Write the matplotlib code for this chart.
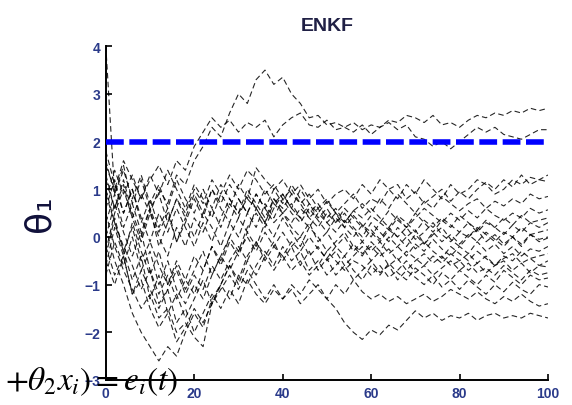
import numpy as np
import matplotlib
matplotlib.use("Agg")
import matplotlib.pyplot as plt

plt.rcParams['mathtext.fontset'] = 'stix'

# time axis (every 2 steps)
time = list(range(0, 101, 2))

# ensemble members (theta_1 estimates)
member_01 = [1.2, 0.6, 1.1, 0.4, 0.9, 0.5, 1.0, 0.7, 1.3, 1.1,
             1.6, 1.9, 2.3, 2.1, 2.6, 3.0, 2.8, 3.3, 3.5, 3.2,
             3.35, 3.0, 2.8, 2.5, 2.55, 2.35, 2.4, 2.3, 2.4, 2.25,
             2.35, 2.3, 2.45, 2.4, 2.55, 2.5, 2.4, 2.55, 2.35, 2.4,
             2.3, 2.45, 2.55, 2.5, 2.6, 2.55, 2.65, 2.6, 2.7, 2.65, 2.7]
member_02 = [0.8, 1.4, 0.9, 1.3, 0.8, 1.2, 1.5, 1.1, 1.6, 1.4,
             1.9, 2.2, 2.5, 2.3, 2.45, 2.2, 2.4, 2.3, 2.45, 2.1,
             2.35, 2.5, 2.6, 2.35, 2.3, 2.45, 2.25, 2.3, 2.2, 2.35,
             2.15, 2.3, 2.4, 2.25, 2.35, 2.1, 2.05, 1.9, 2.0, 1.85,
             2.0, 2.15, 2.3, 2.2, 2.3, 2.15, 2.1, 2.05, 2.15, 2.25, 2.25]
member_03 = [4.0, 0.9, 1.5, 0.7, 1.2, 0.6, 0.9, 0.3, 0.8, 0.5,
             1.0, 0.7, 1.2, 0.9, 1.3, 1.0, 1.4, 1.2, 0.9, 1.1,
             0.8, 1.0, 0.7, 0.9, 0.6, 0.8, 0.5, 0.7, 0.9, 0.6,
             0.8, 0.7, 1.0, 0.8, 1.1, 0.9, 1.2, 1.0, 0.8, 1.1,
             0.9, 1.0, 1.2, 1.1, 0.9, 1.0, 1.2, 1.1, 1.25, 1.2, 1.3]
member_04 = [1.5, 1.0, 1.6, 1.2, 0.8, 1.3, 0.9, 1.4, 1.0, 0.6,
             1.1, 0.8, 0.4, 0.9, 0.6, 1.1, 0.8, 1.45, 1.2, 1.0,
             1.2, 0.9, 1.1, 0.8, 1.0, 0.7, 0.9, 1.0, 0.8, 1.1,
             0.9, 1.2, 1.0, 1.1, 0.8, 0.95, 0.7, 0.85, 1.0, 0.75,
             0.95, 0.8, 1.0, 1.15, 1.0, 1.2, 1.05, 1.3, 1.1, 1.2, 1.16]
member_05 = [0.3, 0.9, 0.2, 0.7, 0.1, 0.6, -0.2, 0.3, 0.8, 0.4,
             0.9, 0.5, 1.0, 0.6, 0.3, 0.8, 0.5, 0.9, 0.6, 1.0,
             0.7, 1.1, 0.8, 0.5, 0.7, 0.4, 0.6, 0.3, 0.55, 0.7,
             0.5, 0.8, 0.6, 0.9, 0.7, 0.5, 0.75, 0.6, 0.85, 0.7,
             0.55, 0.7, 0.8, 0.6, 0.75, 0.65, 0.8, 0.7, 0.9, 0.8, 0.85]
member_06 = [-0.3, 0.5, 1.0, 0.4, -0.1, 0.5, 0.0, -0.4, 0.2, -0.2,
             0.4, 0.1, 0.6, 0.2, 0.7, 0.4, 0.9, 0.6, 0.3, 0.7,
             0.5, 0.3, 0.6, 0.4, 0.2, 0.5, 0.3, 0.6, 0.4, 0.2,
             0.45, 0.3, 0.55, 0.35, 0.2, 0.4, 0.6, 0.45, 0.3, 0.5,
             0.35, 0.55, 0.4, 0.6, 0.45, 0.35, 0.5, 0.4, 0.6, 0.5, 0.57]
member_07 = [1.8, 1.1, 0.5, 1.0, 0.3, 0.8, 0.2, 0.6, -0.1, 0.4,
             0.0, 0.5, 0.2, -0.2, 0.3, 0.0, 0.5, 0.2, 0.7, 0.4,
             0.8, 0.5, 0.3, 0.6, 0.35, 0.1, 0.4, 0.2, 0.45, 0.25,
             0.0, 0.3, 0.15, 0.4, 0.2, 0.5, 0.3, 0.1, 0.35, 0.2,
             0.45, 0.3, 0.1, 0.3, 0.2, 0.4, 0.25, 0.45, 0.3, 0.35, 0.4]
member_08 = [-0.6, 0.2, -0.4, 0.3, -0.3, -0.8, -0.3, -1.0, -0.5, -0.9,
             -0.4, -0.7, -0.2, -0.5, 0.0, 0.4, 0.1, 0.6, 0.3, 0.8,
             0.6, 0.9, 0.7, 0.4, 0.6, 0.3, 0.5, 0.2, 0.0, 0.25,
             0.1, -0.1, 0.15, 0.0, 0.2, -0.05, 0.1, 0.3, 0.05, -0.1,
             0.1, 0.0, 0.2, 0.05, -0.1, 0.1, 0.0, 0.2, 0.05, 0.1, 0.15]
member_09 = [0.9, 0.3, -0.3, 0.2, -0.5, -0.1, -0.6, -1.0, -0.6, -1.1,
             -0.7, -0.3, -0.8, -0.4, 0.0, -0.3, 0.2, 0.5, 0.2, 0.6,
             0.9, 0.6, 1.0, 0.7, 0.4, 0.6, 0.3, 0.5, 0.2, 0.0,
             0.3, 0.1, -0.1, 0.2, 0.0, 0.15, -0.15, 0.05, 0.2, -0.05,
             -0.2, 0.0, 0.15, -0.1, 0.05, -0.15, 0.0, -0.2, 0.05, -0.1, -0.02]
member_10 = [0.0, 0.7, 0.1, -0.4, 0.1, -0.7, -1.2, -0.8, -1.3, -0.9,
             -1.2, -0.7, -0.2, -0.6, -0.1, -0.4, 0.1, -0.2, 0.3, 0.0,
             0.4, 0.1, -0.2, 0.2, 0.0, -0.3, -0.1, 0.1, -0.2, -0.4,
             -0.1, -0.3, 0.0, -0.2, -0.4, -0.15, -0.3, -0.05, -0.25, -0.4,
             -0.2, -0.35, -0.1, -0.3, -0.15, -0.35, -0.2, -0.4, -0.25, -0.3, -0.2]
member_11 = [1.3, 0.6, 1.2, 0.5, 0.0, 0.6, 0.1, 0.5, -0.1, 0.3,
             0.8, 0.4, 1.0, 0.7, 1.1, 0.8, 0.5, 0.9, 0.6, 0.3,
             0.5, 0.2, 0.0, 0.3, -0.1, 0.1, -0.2, 0.0, -0.3, -0.1,
             -0.3, -0.1, -0.35, -0.2, 0.0, -0.25, -0.1, -0.3, -0.45, -0.2,
             -0.35, -0.5, -0.3, -0.45, -0.6, -0.4, -0.5, -0.3, -0.45, -0.4, -0.35]
member_12 = [0.2, -0.5, -1.0, -1.6, -2.0, -2.3, -2.6, -2.3, -2.5, -2.0,
             -1.6, -1.9, -1.3, -1.0, -0.6, -0.9, -0.4, -0.1, -0.5, -0.2,
             0.1, -0.2, 0.0, -0.4, -0.2, -0.5, -0.3, -0.6, -0.4, -0.2,
             -0.5, -0.3, -0.6, -0.45, -0.7, -0.5, -0.35, -0.55, -0.4, -0.6,
             -0.5, -0.7, -0.55, -0.75, -0.6, -0.5, -0.7, -0.55, -0.75, -0.6, -0.63]
member_13 = [0.5, -0.2, -0.7, -1.1, -1.5, -1.2, -1.7, -1.5, -2.0, -1.8,
             -2.1, -2.3, -1.4, -1.0, -1.3, -0.8, -1.0, -0.6, -0.3, -0.6,
             -0.2, -0.5, -0.3, -0.7, -0.5, -0.8, -0.6, -0.4, -0.7, -0.9,
             -0.6, -0.8, -0.55, -0.75, -0.9, -0.65, -0.8, -1.0, -0.75, -0.9,
             -0.7, -0.85, -1.0, -0.8, -0.95, -0.7, -0.85, -1.0, -0.8, -0.9, -0.86]
member_14 = [-0.4, 0.4, -0.3, -0.9, -0.4, -1.3, -0.8, -1.6, -1.2, -1.7,
             -1.3, -0.9, -1.4, -1.0, -0.6, -1.0, -0.5, -0.8, -0.4, -0.1,
             -0.5, -0.2, -0.6, -0.3, -0.7, -0.45, -0.8, -0.6, -0.9, -0.7,
             -0.5, -0.75, -0.6, -0.9, -0.7, -0.85, -1.0, -0.8, -1.05, -0.9,
             -1.1, -0.9, -1.05, -1.2, -1.0, -1.15, -0.95, -1.1, -1.2, -1.0, -1.05]
member_15 = [1.0, 0.3, -0.2, -0.6, -1.1, -0.7, -1.4, -1.1, -1.8, -1.5,
             -2.0, -1.6, -1.2, -1.5, -1.1, -1.4, -0.9, -1.2, -1.4, -1.1,
             -1.3, -1.0, -1.2, -0.9, -1.1, -1.3, -1.0, -1.2, -0.9, -1.15,
             -1.3, -1.2, -1.35, -1.25, -1.4, -1.3, -1.2, -1.35, -1.25, -1.1,
             -1.2, -1.3, -1.15, -1.3, -1.4, -1.25, -1.35, -1.2, -1.35, -1.45, -1.4]
member_16 = [-0.2, -0.8, -0.4, -1.2, -0.9, -1.5, -1.9, -1.6, -2.2, -1.9,
             -1.5, -1.8, -1.4, -1.1, -0.8, -1.1, -0.7, -1.0, -1.3, -1.0,
             -1.3, -1.1, -1.4, -1.2, -1.0, -1.3, -1.5, -1.8, -2.0, -2.15,
             -1.95, -2.05, -1.85, -1.95, -1.75, -1.55, -1.7, -1.6, -1.75, -1.65,
             -1.7, -1.6, -1.75, -1.65, -1.6, -1.7, -1.65, -1.7, -1.6, -1.65, -1.7]
member_17 = [0.6, 1.2, 0.5, 1.0, 0.4, -0.1, 0.5, 0.1, 0.6, 0.2,
             -0.2, 0.3, -0.1, 0.4, 0.8, 0.5, 1.0, 0.7, 0.4, 0.8,
             0.5, 0.7, 0.4, 0.2, 0.5, 0.3, 0.1, 0.35, 0.15, -0.1,
             0.15, -0.05, 0.2, 0.0, -0.2, 0.05, -0.15, 0.1, -0.1, 0.05,
             -0.15, 0.05, -0.1, 0.1, -0.05, -0.2, 0.0, -0.15, 0.05, -0.05, 0.0]
member_18 = [-0.8, -0.1, -0.6, 0.0, -0.7, -0.3, -1.0, -0.5, -1.1, -1.4,
             -1.0, -1.3, -0.8, -0.4, -0.7, -0.3, 0.0, -0.3, 0.1, -0.2,
             -0.4, -0.1, -0.3, 0.0, -0.25, -0.45, -0.2, -0.4, -0.15, -0.35,
             -0.2, -0.4, -0.25, -0.5, -0.3, -0.45, -0.6, -0.4, -0.55, -0.35,
             -0.5, -0.35, -0.55, -0.4, -0.6, -0.45, -0.35, -0.55, -0.45, -0.6, -0.5]
member_19 = [1.6, 0.9, 1.4, 0.8, 1.3, 0.7, 1.1, 0.6, 1.2, 0.8,
             0.5, 1.0, 0.6, 1.1, 0.8, 0.5, 0.8, 0.6, 1.0, 0.7,
             0.9, 0.6, 0.4, 0.7, 0.5, 0.75, 0.5, 0.3, 0.55, 0.4,
             0.6, 0.4, 0.2, 0.45, 0.3, 0.1, 0.35, 0.2, 0.4, 0.25,
             0.1, 0.3, 0.15, 0.35, 0.2, 0.05, 0.25, 0.1, 0.3, 0.2, 0.3]
member_20 = [-0.5, -1.0, -0.4, -1.2, -0.7, -1.1, -1.5, -1.1, -0.7, -1.2,
             -0.8, -1.1, -0.6, -0.9, -0.5, -0.2, -0.5, -0.1, -0.4, -0.7,
             -0.4, -0.7, -0.5, -0.8, -0.6, -0.3, -0.5, -0.7, -0.5, -0.6,
             -0.8, -0.6, -0.85, -0.7, -0.5, -0.75, -0.6, -0.8, -0.65, -0.5,
             -0.7, -0.55, -0.75, -0.65, -0.8, -0.6, -0.75, -0.9, -0.7, -0.8, -0.75]

members = [member_01, member_02, member_03, member_04, member_05,
           member_06, member_07, member_08, member_09, member_10,
           member_11, member_12, member_13, member_14, member_15,
           member_16, member_17, member_18, member_19, member_20]

true_theta1 = 2.0
x_ticks = [0, 20, 40, 60, 80, 100]
y_ticks = [-3, -2, -1, 0, 1, 2, 3, 4]

fig = plt.figure(figsize=(5.72, 4.06), dpi=100)
ax = fig.add_axes([0.185, 0.0616, 0.773, 0.822])

for m in members:
    ax.plot(time, m, color='black', lw=0.8, linestyle=(0, (5, 3)), alpha=0.85)

ax.plot([time[0], time[-1]], [true_theta1, true_theta1], color='#0000ff', lw=4,
        linestyle=(0, (3.2, 1.0)), solid_capstyle='butt', dash_capstyle='butt', zorder=5)

ax.set_xlim(0, 100)
ax.set_ylim(-3, 4)
ax.set_xticks(x_ticks)
ax.set_yticks(y_ticks)
for s in ['top', 'right']:
    ax.spines[s].set_visible(False)
for s in ['left', 'bottom']:
    ax.spines[s].set_linewidth(1.4)
ax.tick_params(direction='in', length=4, width=1.2, labelsize=10,
               labelcolor='#2a3a8a', pad=4)
for lab in ax.get_xticklabels() + ax.get_yticklabels():
    lab.set_fontfamily('Liberation Sans')
    lab.set_fontweight('bold')

ax.set_title('ENKF', fontsize=14, fontweight='bold', family='Liberation Sans',
             color='#202045', pad=12)
ax.set_ylabel('θ₁', fontsize=26, labelpad=20, color='#10103a',
              family=['DejaVu Sans'])

fig.text(0.008, 1 - 390 / 406, r'$+\theta_2 x_i) = e_i(t)$', fontsize=24,
         color='black', va='baseline', ha='left', zorder=10)

fig.savefig('out.png', dpi=100)
